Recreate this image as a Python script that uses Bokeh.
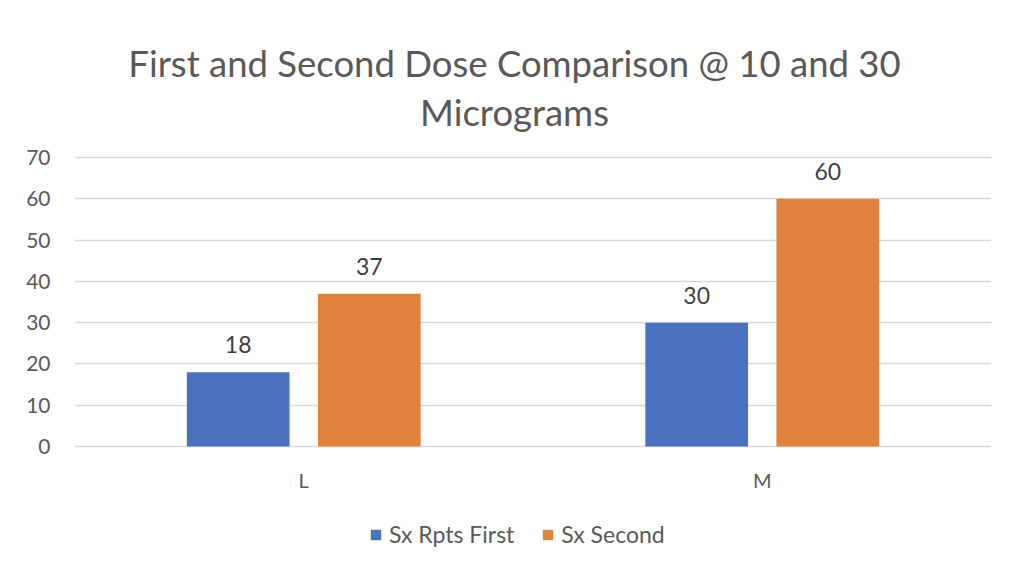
from bokeh.plotting import figure
from bokeh.models import (Range1d, ColumnDataSource, LabelSet, Label,
                          Legend, LegendItem)
from bokeh.transform import dodge
from bokeh.core.properties import value
from bokeh.embed import file_html
from bokeh.resources import INLINE

categories = ["L", "M"]
first_dose = [18, 30]
second_dose = [37, 60]
series_names = ["Sx Rpts First", "Sx Second"]
title_lines = ["First and Second Dose Comparison @ 10 and 30", "Micrograms"]
y_ticks = [0, 10, 20, 30, 40, 50, 60, 70]

FONT = "Lato"
GREY = "#595959"
BLUE = "#4A72C0"
ORANGE = "#E0833F"

# layout (pixels)
W, H = 1024, 576
FRAME_L, FRAME_R = 74, 991
ZERO_Y, TOP_Y = 446, 157          # pixel rows of value 0 and value 70
ppu = (ZERO_Y - TOP_Y) / y_ticks[-1]
y_lo = -(H - ZERO_Y) / ppu
y_hi = ZERO_Y / ppu

cat_pos = [i + 0.5 for i in range(len(categories))]

p = figure(width=W, height=H, x_range=Range1d(0, len(categories)),
           y_range=Range1d(y_lo, y_hi), output_backend="svg", toolbar_location=None,
           x_axis_location=None,
           min_border_left=FRAME_L, min_border_right=W - FRAME_R,
           min_border_top=0, min_border_bottom=0)
p.outline_line_color = None
p.background_fill_color = "white"
p.border_fill_color = "white"
p.styles = {"outline": "1px solid #D9D9D9", "outline-offset": "-4px"}

src = ColumnDataSource(dict(xc=cat_pos, cat=categories, base=[0] * len(categories),
                            first=first_dose, second=second_dose,
                            first_t=[str(v) for v in first_dose],
                            second_t=[str(v) for v in second_dose]))

r1 = p.vbar(x=dodge("xc", -0.143), top="first", width=0.224,
            source=src, fill_color=BLUE, line_color=None)
r2 = p.vbar(x=dodge("xc", 0.143), top="second", width=0.224,
            source=src, fill_color=ORANGE, line_color=None)

for col, off in (("first", -0.143), ("second", 0.143)):
    p.add_layout(LabelSet(x=dodge("xc", off), y=col, text=col + "_t",
                          source=src, text_align="center", text_baseline="alphabetic",
                          y_offset=19, text_font=value(FONT), text_font_size="23px",
                          text_color="#404040"))

# category labels under the baseline
p.add_layout(LabelSet(x="xc", y="base", text="cat", source=src,
                      text_align="center", text_baseline="alphabetic", y_offset=-41,
                      text_font=value(FONT), text_font_size="20px", text_color=GREY))

# y axis
p.yaxis.ticker = y_ticks
p.yaxis.axis_line_color = None
p.yaxis.major_tick_line_color = None
p.yaxis.minor_tick_line_color = None
p.yaxis.major_label_standoff = 18
p.yaxis.major_label_text_font = FONT
p.yaxis.major_label_text_font_size = "21px"
p.yaxis.major_label_text_color = GREY

p.xgrid.grid_line_color = None
p.ygrid.grid_line_color = "#D9D9D9"
p.ygrid.grid_line_width = 1.3

# title, two centred lines
title_cx = (514 - FRAME_L) / (FRAME_R - FRAME_L) * len(categories)
for line, row in zip(title_lines, (62, 111)):
    p.add_layout(Label(x=title_cx, y=(ZERO_Y - row) / ppu, text=line,
                       text_align="center", text_baseline="alphabetic",
                       text_font=FONT, text_font_size="36.5px", text_color=GREY))

legend = Legend(items=[LegendItem(label=series_names[0], renderers=[r1]),
                       LegendItem(label=series_names[1], renderers=[r2])],
                orientation="horizontal", location=(369 - FRAME_L, 576 - 548),
                glyph_width=13, glyph_height=13, label_standoff=7, spacing=27,
                label_text_font=FONT, label_text_font_size="23px",
                label_text_color=GREY, label_height=24,
                padding=0, margin=0, border_line_color=None, background_fill_alpha=0)
p.add_layout(legend, "center")

open("out.html", "w").write(file_html(p, INLINE))
